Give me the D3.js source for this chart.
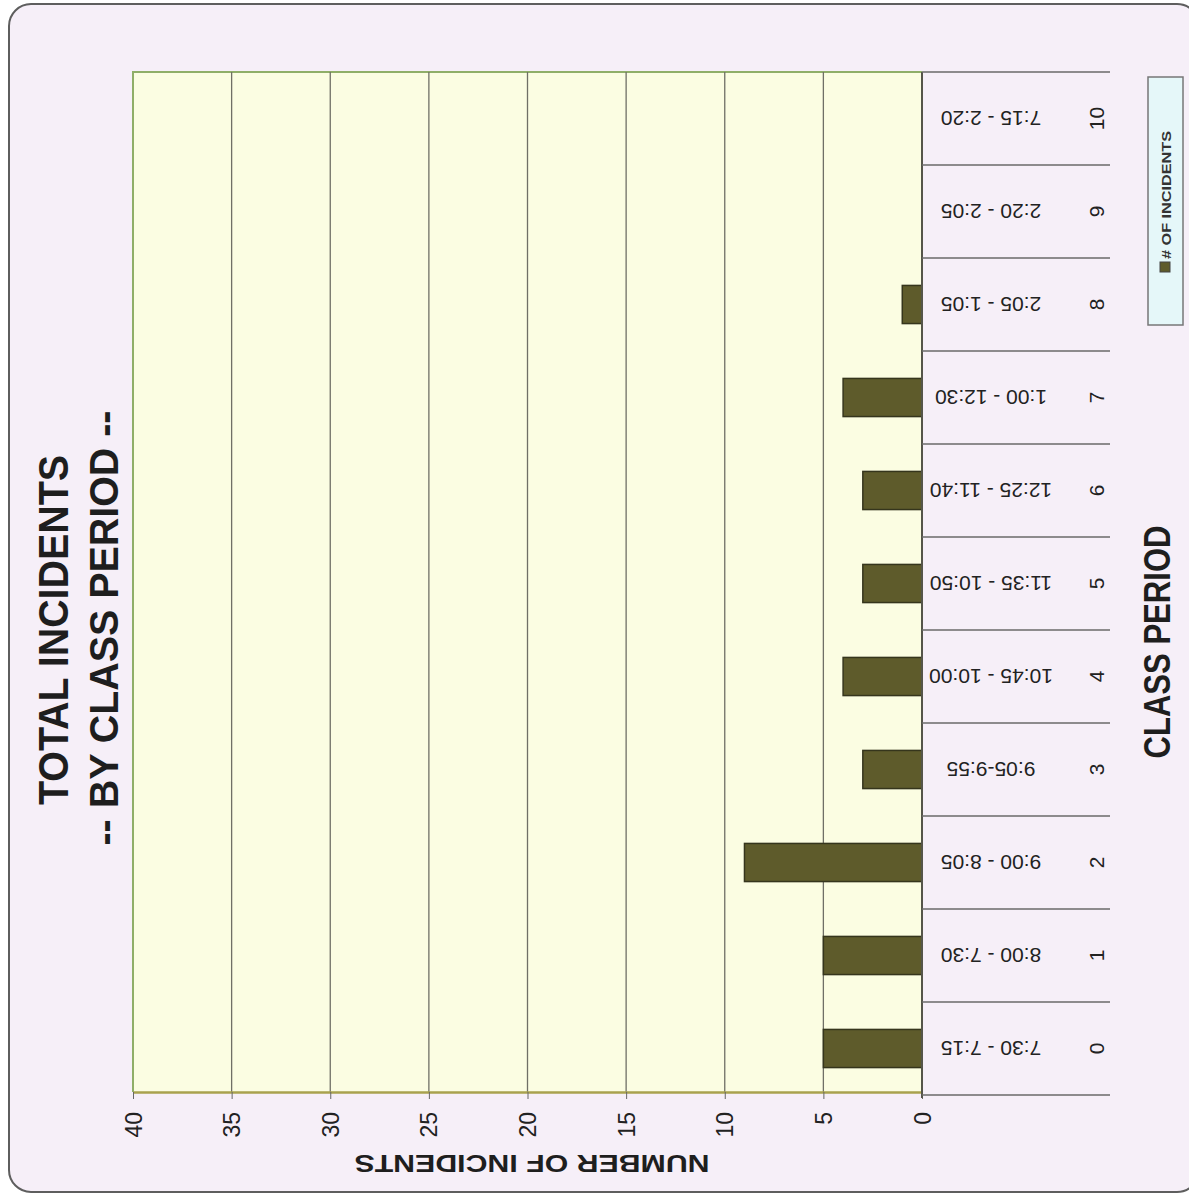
<!DOCTYPE html>
<html>
<head>
<meta charset="utf-8">
<script src="https://cdn.jsdelivr.net/npm/d3@7"></script>
<style>
  html, body { margin: 0; padding: 0; background: #ffffff; }
  text { font-family: "Liberation Sans", Arial, sans-serif; }
</style>
</head>
<body>
<div class="stage"></div>
<script>
// data (period 0 at bottom, 10 at top)
var periods = ["0", "1", "2", "3", "4", "5", "6", "7", "8", "9", "10"];
var periodTimes = ["7:30 - 7:15", "8:00 - 7:30", "9:00 - 8:05", "9:05-9:55", "10:45 - 10:00",
  "11:35 - 10:50", "12:25 - 11:40", "1:00 - 12:30", "2:05 - 1:05", "2:20 - 2:05", "7:15 - 2:20"];
var incidents = [5, 5, 9, 3, 4, 3, 3, 4, 1, 0, 0];
var valueTicks = [0, 5, 10, 15, 20, 25, 30, 35, 40];

var chart = {};
chart.svg = d3.select(".stage").append("svg").attr("width", 1189).attr("height", 1198);

var svg = chart.svg;

// page frame
svg.append("rect").attr("x", 9).attr("y", 4).attr("width", 1190).attr("height", 1188)
  .attr("rx", 22).attr("fill", "#f6eff8").attr("stroke", "#5e5e5e").attr("stroke-width", 2);

// scales: value runs right->left, periods bottom->top
var x = d3.scaleLinear().domain([0, 40]).range([922, 133]);
var y = d3.scaleBand().domain(periods).range([1095, 72]);

// plot area
svg.append("rect").attr("x", x(40)).attr("y", 72).attr("width", x(0) - x(40)).attr("height", 1092 - 72)
  .attr("fill", "#fbfde2");
svg.append("path").attr("d", "M" + x(40) + ",1092V72H" + x(0))
  .attr("fill", "none").attr("stroke", "#8fae68").attr("stroke-width", 2);

// vertical gridlines
svg.selectAll("line.grid").data(valueTicks.filter(function(d){ return d > 0 && d < 40; })).enter()
  .append("line").attr("class", "grid")
  .attr("x1", function(d){ return x(d); }).attr("x2", function(d){ return x(d); })
  .attr("y1", 72).attr("y2", 1092)
  .attr("stroke", "#6f6f66").attr("stroke-width", 1.3);

// value axis along the bottom
var xAxis = d3.axisBottom(x).tickValues(valueTicks).tickSize(7).tickSizeOuter(0);
var gx = svg.append("g").attr("transform", "translate(0,1092)").call(xAxis);
gx.select(".domain").attr("stroke", "#a9a24e").attr("stroke-width", 2.5);
gx.selectAll(".tick line").attr("stroke", "#666");
gx.selectAll(".tick text")
  .attr("transform", "translate(8,20) rotate(-90)")
  .attr("x", 0).attr("y", 0).attr("dy", 0)
  .attr("text-anchor", "end")
  .attr("font-size", 23).attr("fill", "#222");

// bars
var barH = y.bandwidth() * 0.41;
svg.selectAll("rect.bar").data(incidents).enter()
  .append("rect").attr("class", "bar")
  .attr("x", function(d){ return x(d); })
  .attr("y", function(d, i){ return y(periods[i]) + (y.bandwidth() - barH) / 2; })
  .attr("width", function(d){ return x(0) - x(d); })
  .attr("height", barH)
  .attr("fill", "#5e5b2b").attr("stroke", "#35351c").attr("stroke-width", 1.5)
  .style("display", function(d){ return d > 0 ? null : "none"; });

// category axis line and separators
svg.append("line").attr("x1", x(0)).attr("x2", x(0)).attr("y1", 72).attr("y2", 1098)
  .attr("stroke", "#55554a").attr("stroke-width", 2);
var seps = periods.map(function(p){ return y(p) + y.bandwidth(); }).concat([y("10")]);
svg.selectAll("line.sep").data(seps).enter()
  .append("line").attr("class", "sep")
  .attr("x1", x(0)).attr("x2", 1110)
  .attr("y1", function(d){ return d; }).attr("y2", function(d){ return d; })
  .attr("stroke", "#6a6a6a").attr("stroke-width", 1.5);

// time labels (upside down)
svg.selectAll("text.time").data(periodTimes).enter()
  .append("text").attr("class", "time")
  .attr("transform", function(d, i){
    return "translate(991," + (y(periods[i]) + y.bandwidth() / 2 - 7.5) + ") rotate(180)";
  })
  .attr("text-anchor", "middle").attr("font-size", 21).attr("fill", "#222")
  .text(function(d){ return d; });

// period numbers
svg.selectAll("text.num").data(periods).enter()
  .append("text").attr("class", "num")
  .attr("transform", function(d){
    return "translate(1104," + (y(d) + y.bandwidth() / 2) + ") rotate(-90)";
  })
  .attr("text-anchor", "middle").attr("font-size", 21).attr("fill", "#222")
  .text(function(d){ return d; });

// titles
svg.append("text").attr("transform", "translate(68,630) rotate(-90)")
  .attr("text-anchor", "middle").attr("font-size", 42).attr("font-weight", "bold").attr("fill", "#1e1e1e")
  .attr("textLength", 350).attr("lengthAdjust", "spacingAndGlyphs")
  .text("TOTAL INCIDENTS");
svg.append("text").attr("transform", "translate(118,628) rotate(-90)")
  .attr("text-anchor", "middle").attr("font-size", 40).attr("font-weight", "bold").attr("fill", "#1e1e1e")
  .attr("textLength", 435).attr("lengthAdjust", "spacingAndGlyphs")
  .text("-- BY CLASS PERIOD --");
svg.append("text").attr("transform", "translate(1170,642) rotate(-90)")
  .attr("text-anchor", "middle").attr("font-size", 36).attr("font-weight", "bold").attr("fill", "#1e1e1e")
  .attr("textLength", 233).attr("lengthAdjust", "spacingAndGlyphs")
  .text("CLASS PERIOD");
svg.append("text").attr("transform", "translate(532,1155) rotate(180)")
  .attr("text-anchor", "middle").attr("font-size", 24).attr("font-weight", "bold").attr("fill", "#1e1e1e")
  .attr("textLength", 355).attr("lengthAdjust", "spacingAndGlyphs")
  .text("NUMBER OF INCIDENTS");

// legend
var legend = svg.append("g");
legend.append("rect").attr("x", 1148).attr("y", 77).attr("width", 35).attr("height", 248)
  .attr("fill", "#e5f7f9").attr("stroke", "#777").attr("stroke-width", 1.5);
legend.append("rect").attr("x", 1160).attr("y", 262).attr("width", 10).attr("height", 10)
  .attr("fill", "#5e5b2b").attr("stroke", "#444");
legend.append("text").attr("transform", "translate(1171,259) rotate(-90)")
  .attr("font-size", 13).attr("font-weight", "bold").attr("fill", "#333")
  .attr("textLength", 128).attr("lengthAdjust", "spacingAndGlyphs")
  .text("# OF INCIDENTS");
</script>
</body>
</html>
